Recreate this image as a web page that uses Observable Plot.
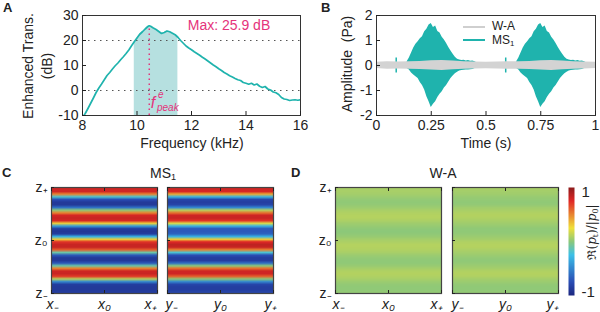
<!DOCTYPE html>
<html><head><meta charset="utf-8">
<script src="https://cdn.jsdelivr.net/npm/d3@7"></script>
<script src="https://cdn.jsdelivr.net/npm/@observablehq/plot@0.6"></script>
<style>
body{margin:0;background:#fff;}
#c{position:relative;width:600px;height:312px;overflow:hidden;font-family:"Liberation Sans",Arial,sans-serif;color:#222;}
.t{position:absolute;white-space:nowrap;line-height:1;}
sub{font-size:65%;vertical-align:-0.25em;line-height:0;}
</style></head><body><div id="c"></div>
<script>
// ---------- Panel A data ----------
const freqKHz = [8.05,8.1,8.2,8.3,8.4,8.5,8.6,8.7,8.8,8.9,9.0,9.1,9.2,9.3,9.4,9.5,9.6,9.7,9.8,9.9,10.0,10.1,10.2,10.3,10.4,10.45,10.5,10.6,10.7,10.8,10.9,11.0,11.1,11.2,11.3,11.4,11.5,11.6,11.7,11.8,11.9,12.0,12.1,12.2,12.3,12.4,12.5,12.6,12.7,12.8,12.9,13.0,13.1,13.2,13.3,13.4,13.5,13.6,13.7,13.8,13.9,14.0,14.1,14.2,14.3,14.4,14.5,14.6,14.7,14.8,14.9,15.0,15.1,15.2,15.3,15.4,15.5,15.6,15.7,15.8,15.9,16.0];
const enhancedDb = [-10,-9.2,-7.2,-5.1,-3.0,-0.8,1.0,2.6,4.3,6.0,7.2,8.6,9.9,11.0,12.3,13.5,14.8,16.2,17.9,19.5,21.0,22.5,23.5,24.6,25.6,25.9,25.7,25.0,24.4,23.6,22.8,23.2,23.8,23.5,22.9,22.3,21.3,20.0,18.9,17.8,17.0,16.3,15.5,14.8,14.1,13.3,12.6,11.8,11.0,10.2,9.5,8.7,8.0,7.2,6.6,5.9,5.4,4.8,4.3,4.0,3.2,2.9,2.5,2.9,2.2,2.6,1.7,1.2,1.6,0.6,0.2,-0.6,-0.9,-1.6,-2.8,-3.4,-3.6,-4.0,-3.8,-3.7,-3.9,-3.7];
const bandKHz = [9.85, 11.5];
const freqTicks = [8,10,12,14,16];
const dbTicks = [-10,0,10,20,30];
const dbGrid = [0,20];

// ---------- Panel B data ----------
const burstT  = [0.14,0.15,0.16,0.17,0.18,0.19,0.20,0.21,0.22,0.23,0.24,0.25,0.26,0.27,0.28,0.29,0.30,0.31,0.32,0.33,0.34,0.35,0.36,0.37,0.38,0.39,0.40,0.41,0.42,0.43,0.44,0.45,0.46];
const burstHi = [0.15,0.3,0.5,0.7,0.85,0.95,1.07,1.15,1.35,1.45,1.62,1.68,1.52,1.58,1.36,1.3,1.13,1.02,0.88,0.72,0.58,0.45,0.33,0.25,0.22,0.2,0.21,0.18,0.2,0.17,0.18,0.15,0.1];
const burstLo = [-0.12,-0.18,-0.3,-0.38,-0.45,-0.52,-0.68,-0.8,-0.98,-1.25,-1.45,-1.68,-1.55,-1.45,-1.28,-1.15,-1.05,-0.9,-0.8,-0.66,-0.52,-0.42,-0.33,-0.27,-0.22,-0.2,-0.19,-0.18,-0.18,-0.17,-0.16,-0.12,-0.1];
const burstOffsets = [0, 0.5];
const spikeT = [0.09, 0.59];
const spikeAmp = [0.3, 0.3];
const waT  = [0,0.05,0.1,0.15,0.2,0.25,0.3,0.35,0.4,0.45,0.5,0.55,0.6,0.65,0.7,0.75,0.8,0.85,0.9,0.95,1.0];
const waHi = [0.13,0.15,0.14,0.15,0.16,0.19,0.2,0.18,0.15,0.14,0.13,0.14,0.15,0.15,0.16,0.19,0.2,0.18,0.15,0.14,0.13];
const waLo = [-0.12,-0.15,-0.14,-0.15,-0.16,-0.18,-0.2,-0.17,-0.15,-0.14,-0.13,-0.14,-0.15,-0.15,-0.16,-0.18,-0.2,-0.17,-0.15,-0.14,-0.12];
const timeTicks = [0,0.25,0.5,0.75,1];
const timeTickLabels = ["0","0.25","0.5","0.75","1"];
const ampTicks = [-2,-1,0,1,2];

// ---------- Panels C/D data (row profiles from z+ to z-) ----------
const msXZ = [0.8,0.8,0.5,-0.2,-0.75,-0.88,-0.88,-0.6,0.0,0.5,0.78,0.82,0.78,0.3,-0.4,-0.85,-0.9,-0.85,-0.3,0.3,0.72,0.82,0.82,0.6,-0.1,-0.7,-0.88,-0.88,-0.7,-0.1,0.5,0.8,0.82,0.7,0.1,-0.5,-0.85,-0.88,-0.88,-0.85];
const msYZ = [0.8,0.78,0.4,-0.3,-0.8,-0.85,-0.8,-0.5,0.1,0.55,0.8,0.82,0.72,0.2,-0.3,-0.7,-0.7,-0.65,-0.3,0.3,0.75,0.85,0.82,0.5,-0.2,-0.75,-0.85,-0.85,-0.6,0.0,0.55,0.8,0.8,0.6,0.0,-0.5,-0.8,-0.85,-0.85,-0.8];
const waXZ = [0.07,0.07,0.06,0.04,0.02,0.01,0.02,0.04,0.07,0.09,0.1,0.1,0.08,0.05,0.03,0.01,0.0,0.01,0.03,0.06,0.08,0.1,0.1,0.09,0.07,0.04,0.02,0.01,0.01,0.03,0.06,0.09,0.1,0.09,0.07,0.04,0.02,0.01,0.01,0.02];
const waYZ = [0.07,0.06,0.05,0.03,0.02,0.01,0.02,0.05,0.07,0.09,0.1,0.09,0.07,0.05,0.03,0.01,0.01,0.02,0.04,0.06,0.09,0.1,0.1,0.08,0.06,0.04,0.02,0.01,0.02,0.04,0.06,0.09,0.1,0.09,0.06,0.04,0.02,0.01,0.01,0.02];
const hTickPos = [0, 0.5, 1];
const xLabels = ["x₋","x₀","x₊"];
const yLabels = ["y₋","y₀","y₊"];
const zTickPos = [1, 0.5, 0];
const zLabels = ["z₊","z₀","z₋"];
const cmapStops  = [-1,-0.75,-0.25,0,0.25,0.75,1];
const cmapColors = ["#1c2880","#2a4db5","#3cc0e8","#8cc87a","#f0e03a","#e02826","#8c1c1c"];

// ---------- helpers ----------
const teal = "#1fb3ad", magenta = "#e5337b";
const font = '"Liberation Sans", Arial, sans-serif';
const root = document.getElementById("c");
const baseStyle = {fontFamily: font, fontSize: "14px", color: "#222", background: "transparent", overflow: "visible"};
function put(el, left, top){ el.style.position="absolute"; el.style.left=left+"px"; el.style.top=top+"px"; root.appendChild(el); }
function txt(html, x, y, o={}) {
  const d = document.createElement("div"); d.className="t"; d.innerHTML=html;
  d.style.left = x+"px"; d.style.top = y+"px";
  d.style.fontSize = (o.size||14)+"px";
  if (o.bold) d.style.fontWeight="bold";
  if (o.italic) d.style.fontStyle="italic";
  if (o.color) d.style.color=o.color;
  if (o.family) d.style.fontFamily=o.family;
  const ax = o.anchor==="start" ? "0" : "-50%";
  d.style.transform = `translate(${ax},-50%)` + (o.rotate ? ` rotate(${o.rotate}deg)` : "");
  root.appendChild(d);
}
const color = {type: "linear", domain: cmapStops, range: cmapColors, clamp: true};

// ---------- Panel A ----------
const curve = freqKHz.map((f,i)=>({f, v: enhancedDb[i]}));
const band = curve.filter(d => d.f >= bandKHz[0] && d.f <= bandKHz[1]);
const peak = curve.reduce((a,b)=> b.v > a.v ? b : a);
const plotA = Plot.plot({
  width: 300, height: 150, marginLeft: 82, marginRight: 0, marginTop: 15, marginBottom: 35,
  style: baseStyle,
  x: {domain: [8,16]}, y: {domain: [-10,30]},
  marks: [
    Plot.areaY(band, {x: "f", y1: -10, y2: "v", fill: "#b6e0e0"}),
    Plot.ruleY(dbGrid, {stroke: "#555", strokeDasharray: "1.5,4.5"}),
    Plot.ruleX([peak], {x: "f", y1: -10, y2: "v", stroke: magenta, strokeWidth: 1.5, strokeDasharray: "1.5,3.5"}),
    Plot.line(curve, {x: "f", y: "v", stroke: teal, strokeWidth: 1.7, clip: true}),
    Plot.frame({stroke: "#333"}),
    Plot.axisX({ticks: freqTicks, tickSize: -4, tickPadding: 9, tickFormat: d => String(d), label: null}),
    Plot.axisY({ticks: dbTicks, tickSize: -4, tickPadding: 8, tickFormat: d => String(d), label: null})
  ]
});
put(plotA, 0, 0);

// ---------- Panel B ----------
const burstData = burstOffsets.flatMap((o,k) => burstT.map((t,i) => ({k, t: t + o, hi: burstHi[i], lo: burstLo[i]})));
const spikes = spikeT.map((t,i) => ({t, a: spikeAmp[i]}));
const wa = waT.map((t,i) => ({t, hi: waHi[i], lo: waLo[i]}));
const plotB = Plot.plot({
  width: 300, height: 150, marginLeft: 76, marginRight: 5, marginTop: 15, marginBottom: 35,
  style: baseStyle,
  x: {domain: [0,1]}, y: {domain: [-2,2]},
  marks: [
    Plot.areaY(burstData, {x: "t", y1: "lo", y2: "hi", z: "k", fill: teal}),
    Plot.ruleX(spikes, {x: "t", y1: d => -d.a, y2: "a", stroke: teal, strokeWidth: 1.5}),
    Plot.areaY(wa, {x: "t", y1: "lo", y2: "hi", fill: "#d3d3d3"}),
    Plot.frame({stroke: "#333"}),
    Plot.axisX({ticks: timeTicks, tickSize: -4, tickPadding: 9, tickFormat: d => timeTickLabels[timeTicks.indexOf(d)], label: null}),
    Plot.axisY({ticks: ampTicks, tickSize: -4, tickPadding: 8, tickFormat: d => String(d), label: null})
  ]
});
put(plotB, 300, 0);

// ---------- Heatmaps ----------
function heat(profile, left, labelsX, showZ, inL, inR) {
  const grid = profile.flatMap(v => [v, v]);
  const lab = d => labelsX[hTickPos.indexOf(d)];
  const axOpts = {tickSize: 0, tickPadding: 6, fontStyle: "italic", label: null, tickFormat: lab};
  const marks = [
    Plot.raster(grid, {width: 2, height: profile.length, x1: 0, x2: 1, y1: 1, y2: 0, fill: d => d, imageRendering: "auto"}),
    Plot.frame({stroke: "#444", strokeWidth: 1.2}),
    Plot.axisX({ticks: hTickPos, tickSize: -3, tickFormat: () => "", label: null}),
    Plot.axisX({...axOpts, ticks: [hTickPos[0]], dx: inL}),
    Plot.axisX({...axOpts, ticks: [hTickPos[1]]}),
    Plot.axisX({...axOpts, ticks: [hTickPos[2]], dx: -inR}),
    Plot.axisX({anchor: "top", ticks: hTickPos, tickSize: -3, tickFormat: () => "", label: null}),
    Plot.axisY({ticks: zTickPos, tickFormat: d => showZ ? zLabels[zTickPos.indexOf(d)] : "", tickSize: -3, tickPadding: 7, label: null})
  ];
  const p = Plot.plot({
    width: 106, height: 106, margin: 0, style: baseStyle,
    x: {domain: [0,1]}, y: {domain: [0,1]}, color,
    marks
  });
  put(p, left, 187);
}
heat(msXZ, 51, xLabels, true, 1, 7);
heat(msYZ, 167, yLabels, false, 4, 3);
heat(waXZ, 335, xLabels, true, 3, 5);
heat(waYZ, 452, yLabels, false, 5, 6);

// colorbar
const cbar = Plot.plot({
  width: 6, height: 108, margin: 0, style: Object.assign({}, baseStyle, {fontSize: "15px"}),
  x: {domain: [0,1], axis: null}, y: {domain: [-1,1]}, color,
  marks: [
    Plot.raster({fill: (x, y) => y, x1: 0, x2: 1, y1: -1, y2: 1, width: 1, height: 100, imageRendering: "auto"}),
    Plot.axisY({anchor: "right", ticks: [1], dy: 5, tickSize: 0, tickPadding: 7, tickFormat: d => String(d), label: null}),
    Plot.axisY({anchor: "right", ticks: [-1], dy: -3, tickSize: 0, tickPadding: 7, tickFormat: d => String(d), label: null})
  ]
});
put(cbar, 568, 187);

// ---------- text overlays ----------
txt("A", 3, 7, {bold: true, size: 13, anchor: "start"});
txt("B", 321, 7, {bold: true, size: 13, anchor: "start"});
txt("C", 2, 172, {bold: true, size: 13, anchor: "start"});
txt("D", 291, 172, {bold: true, size: 13, anchor: "start"});
txt("Enhanced Trans.", 28, 66, {rotate: -90});
txt("(dB)", 47, 66, {rotate: -90});
txt("Frequency (kHz)", 192, 143);
txt("Amplitude&nbsp; (Pa)", 347, 64, {rotate: -90});
txt("Time (s)", 486, 143);
txt("Max: 25.9 dB", 229, 25, {color: magenta});
txt('<span style="font-style:italic;font-size:16px">f</span>', 153, 103, {color: magenta});
txt("e", 158, 95, {color: magenta, size: 10, italic: true, anchor: "start"});
txt("peak", 157, 108, {color: magenta, size: 10, italic: true, anchor: "start"});
txt("MS<sub>1</sub>", 163, 173);
txt("W-A", 443, 173);
// legend in B
function legLine(x, y, c){ const d=document.createElement("div"); d.style.cssText=`position:absolute;left:${x}px;top:${y-1}px;width:22px;height:0;border-top:2px solid ${c};`; root.appendChild(d); }
legLine(463, 27, "#cfcfcf");
legLine(463, 40, teal);
txt("W-A", 492, 26, {size: 12, anchor: "start"});
txt("MS<sub>1</sub>", 492, 40, {size: 12, anchor: "start"});
// colorbar title
txt('ℜ(<i>p</i><sub>t</sub>)/|<i>p</i><sub>0</sub>|', 592, 232, {rotate: -90, size: 12, family: '"DejaVu Serif", serif'});
</script>
</body></html>
